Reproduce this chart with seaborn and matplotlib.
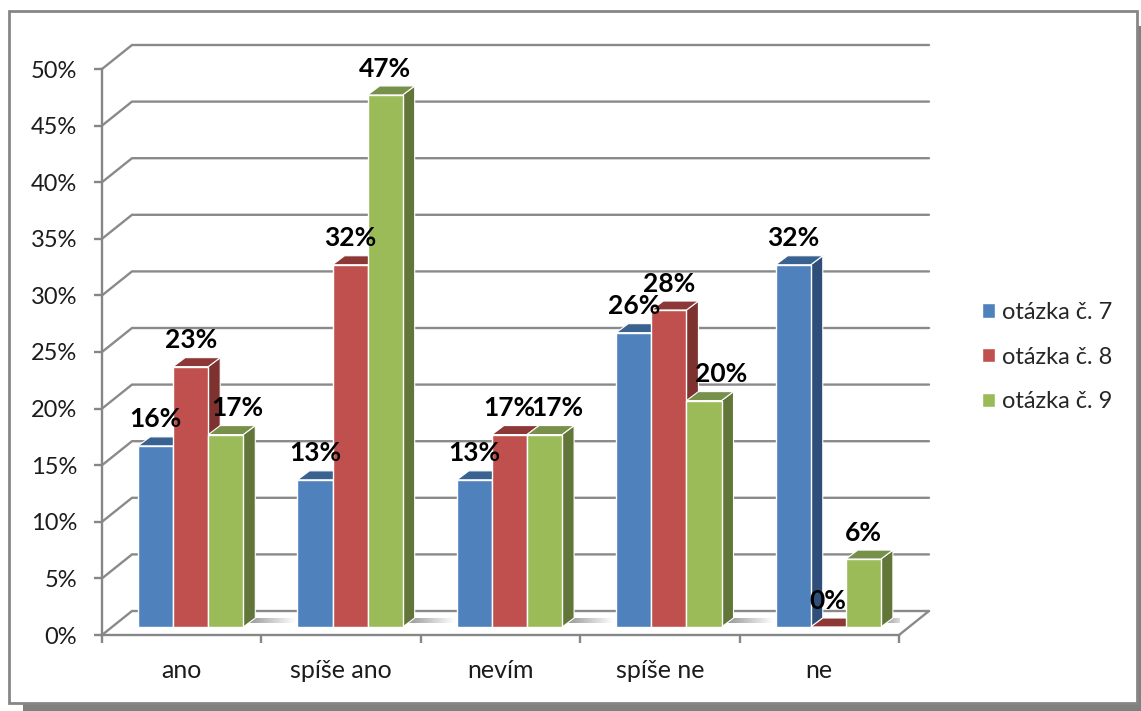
import numpy as np
import pandas as pd
import matplotlib
matplotlib.use('Agg')
import matplotlib.pyplot as plt
from matplotlib.patches import Polygon, Rectangle
import seaborn as sns

# Hodnoty (v procentech)
kategorie = ['ano', 'spíše ano', 'nevím', 'spíše ne', 'ne']
otazka_7 = [16, 13, 13, 26, 32]
otazka_8 = [23, 32, 17, 28, 0]
otazka_9 = [17, 47, 17, 20, 6]
otazky = ['otázka č. 7', 'otázka č. 8', 'otázka č. 9']
y_ticks = [0, 5, 10, 15, 20, 25, 30, 35, 40, 45, 50]

barvy = ['#4F81BD', '#C0504D', '#9BBB59']
barvy_bok = ['#2F4F7A', '#7E3230', '#62763A']
barvy_vrch = ['#396290', '#8C3836', '#77904A']
seda = '#8A8A8A'

W, H = 1141, 711
sns.set_theme(style='white')
plt.rcParams['font.family'] = ['Lato', 'DejaVu Sans']

df = pd.DataFrame({
    'odpoved': kategorie * 3,
    'podil': otazka_7 + otazka_8 + otazka_9,
    'otazka': [o for o in otazky for _ in kategorie],
})

fig = plt.figure(figsize=(W / 100, H / 100), dpi=100, facecolor='white')

# ramecek grafu se stinem vpravo a dole
fig.add_artist(Rectangle((23 / W, 0), (W - 23) / W, 8 / H, transform=fig.transFigure,
                         fc='#808080', ec='none', zorder=-5))
fig.add_artist(Rectangle((1137 / W, 0), 4 / W, (H - 26) / H, transform=fig.transFigure,
                         fc='#808080', ec='none', zorder=-5))
fig.add_artist(Rectangle((8.5 / W, 8 / H), 1128.5 / W, (H - 18.5) / H, transform=fig.transFigure,
                         fc='white', ec='#868686', lw=2, zorder=-4))

# osa: 0 % je na y=635 px, 50 % na y=69 px, kategorie od x=102 do x=899 px
ax = fig.add_axes([102 / W, (H - 635) / H, 797 / W, 566 / H])
sns.barplot(data=df, x='odpoved', y='podil', hue='otazka', palette=barvy, saturation=1,
            width=0.66, edgecolor='white', linewidth=1, ax=ax, zorder=3)
ax.set_xlim(-0.5, 4.5)
ax.set_ylim(0, 50)
ax.patch.set_alpha(0)

px_x = 5 / 797
px_y = 50 / 566
zadni_dx, zadni_dy = 30 * px_x, 24 * px_y
bok_dx, bok_dy = 12 * px_x, 9 * px_y
posun = 9 * px_x
podlaha = 8 * px_y

# zadni stena a leva stena
for v in y_ticks:
    ax.plot([-0.5, -0.5 + zadni_dx, 4.5 + zadni_dx], [v, v + zadni_dy, v + zadni_dy],
            color=seda, lw=1.7, clip_on=False, zorder=1, solid_joinstyle='miter')
ax.plot([4.5, 4.5 + zadni_dx], [0, zadni_dy], color=seda, lw=1.7, clip_on=False, zorder=1)

# 3D vzhled sloupcu
n_kat = len(kategorie)
pruh = np.linspace(0.55, 1, 64).reshape(1, -1)
posuny_popisku = {(2, 0): 12, (2, 2): 13, (2, 3): 17}  # zelene popisky jsou posunute doprava
for k, kontejner in enumerate(ax.containers):
    for kat, p in enumerate(kontejner):
        p.set_x(p.get_x() + posun)
        p.set_y(podlaha)
        z = 3 + kat + k * 0.1
        p.set_zorder(z + 0.02)
        x0, x1 = p.get_x(), p.get_x() + p.get_width()
        y0, y1 = podlaha, podlaha + p.get_height()
        ax.add_patch(Polygon([(x1, y0), (x1 + bok_dx, y0 + bok_dy), (x1 + bok_dx, y1 + bok_dy), (x1, y1)],
                             fc=barvy_bok[k], ec='white', lw=0.8, zorder=z, clip_on=False))
        ax.add_patch(Polygon([(x0, y1), (x1, y1), (x1 + bok_dx, y1 + bok_dy), (x0 + bok_dx, y1 + bok_dy)],
                             fc=barvy_vrch[k], ec='white', lw=0.8, zorder=z + 0.01, clip_on=False))
        # stin na podlaze za poslednim sloupcem skupiny
        if k == 2:
            sirka = 52 * px_x if kat < n_kat - 1 else 26 * px_x
            ax.imshow(pruh, extent=(x1, x1 + sirka, 12 * px_y, 17 * px_y),
                      aspect='auto', cmap='gray', vmin=0, vmax=1, zorder=1.5)
        # popisek hodnoty
        ax.annotate(f'{p.get_height():.0f}%', ((x0 + x1) / 2, y1),
                    xytext=(posuny_popisku.get((k, kat), 0) * 0.72, 19),
                    textcoords='offset points', ha='center', va='center', fontsize=19,
                    fontweight='bold', color='black', zorder=30, annotation_clip=False)

ax.set_xlim(-0.5, 4.5)
ax.set_ylim(0, 50)

# osy
sns.despine(ax=ax, top=True, right=True)
for s in ['left', 'bottom']:
    ax.spines[s].set_color('#868686')
    ax.spines[s].set_linewidth(1.7)
    ax.spines[s].set_zorder(2)
ax.set_xlabel('')
ax.set_ylabel('')
ax.set_yticks(y_ticks, labels=[f'{v}%' for v in y_ticks])
ax.set_xticks(np.arange(n_kat + 1) - 0.5, labels=[])
ax.set_xticks(np.arange(n_kat), labels=kategorie, minor=True)
ax.tick_params(axis='y', length=6, width=1.7, color='#868686', labelsize=17,
               labelcolor='#1c1c1c', pad=12, left=True)
ax.tick_params(axis='x', which='major', length=6, width=1.7, color='#868686', bottom=True)
ax.tick_params(axis='x', which='minor', length=0, labelsize=18, labelcolor='#1c1c1c', pad=17)

# legenda
sns.move_legend(ax, loc='center left', bbox_to_anchor=(961 / W, (H - 357) / H),
                bbox_transform=fig.transFigure, title=None, frameon=False,
                fontsize=17, handlelength=0.55, handleheight=0.55, handletextpad=0.3,
                labelspacing=1.0)

fig.savefig('out.png', dpi=100)
